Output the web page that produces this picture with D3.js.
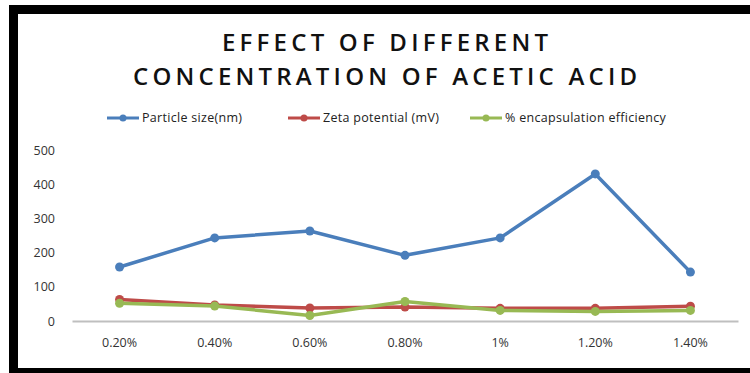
<!DOCTYPE html>
<html>
<head>
<meta charset="utf-8">
<script src="https://cdn.jsdelivr.net/npm/d3@7"></script>
<style>
  html, body { margin: 0; padding: 0; background: #fff; }
  svg { display: block; }
</style>
</head>
<body>
<svg id="chart" width="750" height="373"></svg>
<script>
// Acetic acid concentration levels
const categories = ["0.20%", "0.40%", "0.60%", "0.80%", "1%", "1.20%", "1.40%"];
// Measured responses at each concentration
const particleSize = [158, 243, 263, 192, 243, 430, 143];
const zetaPotential = [63, 47, 38, 41, 37, 37, 43];
const encapsulation = [52, 44, 16, 57, 31, 28, 31];
const seriesNames = ["Particle size(nm)", "Zeta potential (mV)", "% encapsulation efficiency"];
const titleLines = ["EFFECT OF DIFFERENT", "CONCENTRATION OF ACETIC ACID"];
const yTicks = [0, 100, 200, 300, 400, 500];

const colors = ["#4A7EBB", "#BE4B48", "#98B954"];
const seriesValues = [particleSize, zetaPotential, encapsulation];

const svg = d3.select("#chart");
const W = 750, H = 373;
const font = "'Open Sans', sans-serif";

svg.append("rect").attr("width", W).attr("height", H).attr("fill", "#fff");

// Frame: thick dark edges on top, left and bottom
svg.append("rect").attr("x", 9).attr("y", 5).attr("width", W - 9).attr("height", 9).attr("fill", "#000");
svg.append("rect").attr("x", 9).attr("y", 5).attr("width", 9).attr("height", H - 5).attr("fill", "#000");
svg.append("rect").attr("x", 9).attr("y", 368).attr("width", W - 9).attr("height", 5).attr("fill", "#000");

// Two-line title
const titleWidths = [326, 504];
const titleY = [51, 84.5];
const title = svg.append("g").attr("font-family", font)
  .attr("font-weight", 600).attr("font-size", 24).attr("fill", "#111").attr("text-anchor", "middle");
titleLines.forEach((t, i) => {
  title.append("text").attr("x", 385).attr("y", titleY[i]).text(t)
    .attr("textLength", titleWidths[i]).attr("lengthAdjust", "spacing");
});

// Scales
const x = d3.scaleBand().domain(categories).range([72, 738]);
const y = d3.scaleLinear().domain([0, 500]).range([321, 150]);

// Y axis (labels only)
const yAxis = svg.append("g").attr("transform", "translate(57,0)")
  .call(d3.axisLeft(y).tickValues(yTicks).tickSize(0).tickPadding(2));
yAxis.select(".domain").remove();
yAxis.selectAll("text").attr("font-family", font).attr("font-size", 12.5).attr("fill", "#333");

// X axis
const xAxis = svg.append("g").attr("transform", `translate(0,${y(0)})`)
  .call(d3.axisBottom(x).tickSize(0).tickPadding(17));
xAxis.select(".domain").attr("stroke", "#BFBFBF").attr("stroke-width", 2);
xAxis.selectAll("text").attr("font-family", font).attr("font-size", 12.5).attr("fill", "#333");

// Lines and markers
const line = d3.line().x((d, i) => x(categories[i]) + x.bandwidth() / 2).y(d => y(d));
seriesValues.forEach((vals, s) => {
  const g = svg.append("g");
  g.append("path").datum(vals).attr("d", line).attr("fill", "none")
    .attr("stroke", colors[s]).attr("stroke-width", 3.5).attr("stroke-linejoin", "round");
  g.selectAll("circle").data(vals).join("circle")
    .attr("cx", (d, i) => x(categories[i]) + x.bandwidth() / 2)
    .attr("cy", d => y(d)).attr("r", 4.5).attr("fill", colors[s]);
});

// Legend
const legendX = [107, 288, 470];
const legend = svg.append("g").attr("font-family", font).attr("font-size", 12.5)
  .attr("letter-spacing", 0.3).attr("fill", "#222");
seriesNames.forEach((name, s) => {
  const lx = legendX[s], ly = 118;
  legend.append("line").attr("x1", lx).attr("x2", lx + 32).attr("y1", ly).attr("y2", ly)
    .attr("stroke", colors[s]).attr("stroke-width", 3);
  legend.append("circle").attr("cx", lx + 16).attr("cy", ly).attr("r", 3.5).attr("fill", colors[s]);
  legend.append("text").attr("x", lx + 35).attr("y", ly + 4).text(name);
});
</script>
</body>
</html>
